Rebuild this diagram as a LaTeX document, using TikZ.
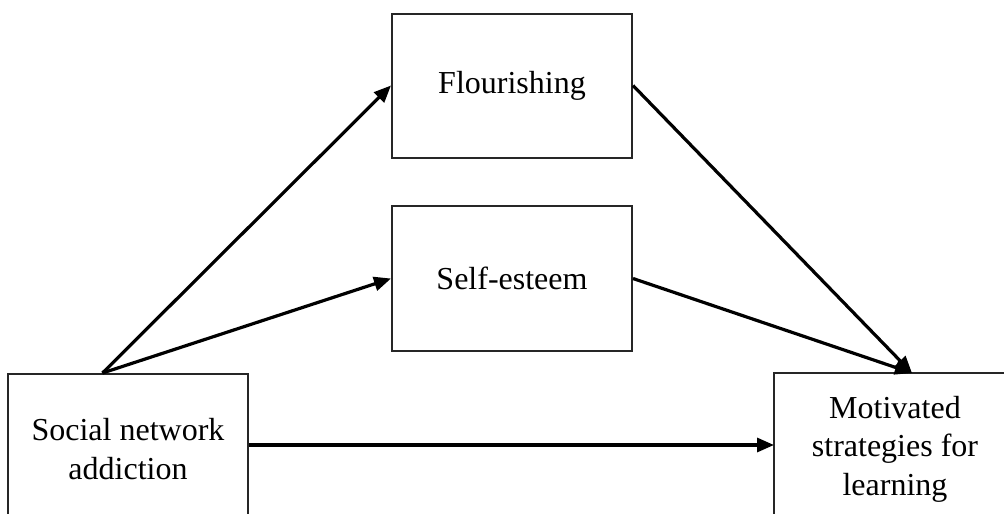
\documentclass[tikz,border=0pt]{standalone}
\usepackage{fontspec}
\setmainfont{Liberation Serif}
\usetikzlibrary{arrows.meta,calc}
\begin{document}
\begin{tikzpicture}[x=1pt,y=-1pt,
  boxline/.style={draw=black!85,line width=2pt},
  box/.style={boxline,align=center,inner sep=0pt,
    font=\fontsize{32}{38.5}\selectfont},
  link/.style={line width=3.2pt,-{Triangle[length=17pt,width=14pt]}}]
\useasboundingbox (0,0) rectangle (1004,514);
\node[box,minimum width=240pt,minimum height=150pt] (sna) at (128,449) {Social network\\addiction};
\node[box,minimum width=240pt,minimum height=144pt] (flour) at (512,85.5) {Flourishing};
\node[box,minimum width=240pt,minimum height=145pt] (se) at (512,278.5) {Self-esteem};
\node[box,draw=none,minimum width=300pt,minimum height=150pt] (mot) at (925,449)
  {\begin{tabular}{@{}c@{\hspace{60pt}}}Motivated\\strategies for\\learning\end{tabular}};
\draw[boxline] (mot.south west) -- (mot.north west) -- (mot.north east);
\coordinate (s) at ($(sna.north west)+(95.5,0)$);
\coordinate (m) at ($(mot.north west)+(138,0)$);
\draw[link] (s) -- (flour.west);
\draw[link] (s) -- (se.west);
\draw[link] (flour.east) -- (m);
\draw[link] (se.east) -- (m);
\draw[link] ($(sna.east)+(0,-4)$) -- ($(mot.west)+(0,-4)$);
\end{tikzpicture}
\end{document}
